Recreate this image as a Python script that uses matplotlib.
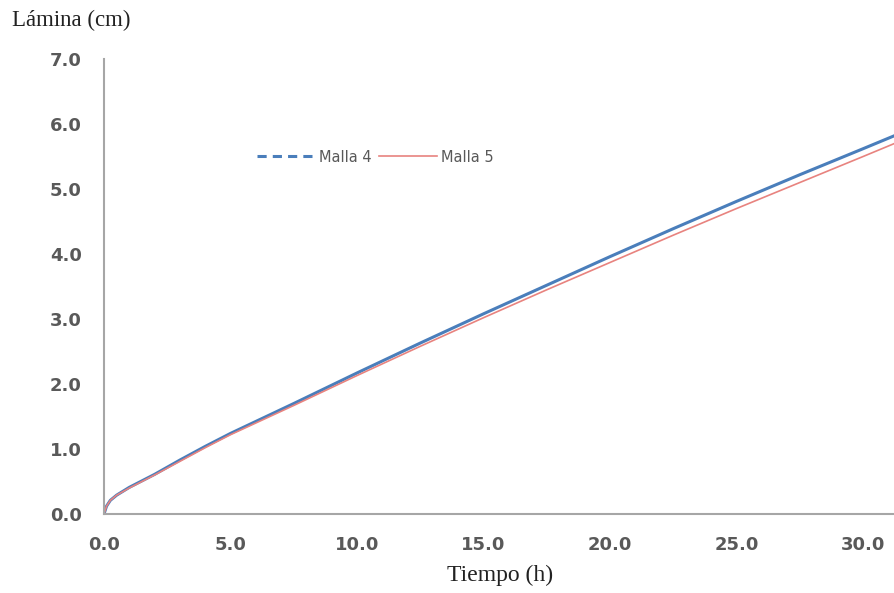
import matplotlib
matplotlib.use("Agg")
import matplotlib.pyplot as plt
from matplotlib.lines import Line2D

# tiempo (h) y lamina infiltrada (cm)
tiempo = [0, 0.1, 0.25, 0.5, 1, 2, 3, 4, 5, 7.5, 10, 12.5, 15, 17.5, 20, 22.5, 25, 27.5, 30, 31.3]
malla4 = [0, 0.12, 0.21, 0.29, 0.41, 0.61, 0.83, 1.04, 1.24, 1.70, 2.17, 2.63, 3.08, 3.52,
          3.96, 4.39, 4.81, 5.22, 5.62, 5.83]
malla5 = [0, 0.12, 0.21, 0.29, 0.40, 0.60, 0.81, 1.02, 1.22, 1.67, 2.13, 2.58, 3.02, 3.45,
          3.87, 4.29, 4.70, 5.10, 5.50, 5.71]
xticks = [0, 5, 10, 15, 20, 25, 30]
yticks = [0, 1, 2, 3, 4, 5, 6, 7]

BLUE = '#4a7ebb'
RED = '#e8837f'
GREY = '#595959'

fig = plt.figure(figsize=(8.95, 5.93), dpi=100)
ax = fig.add_axes([104 / 895, 1 - 514 / 593, 1 - 104 / 895, (514 - 59) / 593])

ax.plot(tiempo, malla4, color=BLUE, lw=2.2, solid_capstyle='butt')
ax.plot(tiempo, malla5, color=RED, lw=1.2)

ax.set_xlim(0, 31.26)
ax.set_ylim(0, 7)
ax.set_xticks(xticks)
ax.set_yticks(yticks)
ax.set_xticklabels(['%.1f' % v for v in xticks])
ax.set_yticklabels(['%.1f' % v for v in yticks])
ax.tick_params(length=0, labelsize=13, labelcolor=GREY)
ax.tick_params(axis='x', pad=16)
ax.tick_params(axis='y', pad=16)
for lab in ax.get_xticklabels() + ax.get_yticklabels():
    lab.set_fontweight('bold')

for s in ['top', 'right']:
    ax.spines[s].set_visible(False)
for s in ['left', 'bottom']:
    ax.spines[s].set_color('#a6a6a6')
    ax.spines[s].set_linewidth(1.5)

fig.text(12 / 895, 1 - 20 / 593, 'Lámina (cm)', family='Liberation Serif', fontsize=16.5,
         va='center', ha='left', color='#222222')
fig.text(500 / 895, 1 - 575 / 593, 'Tiempo (h)', family='Liberation Serif', fontsize=17,
         va='center', ha='center', color='#222222')

handles = [Line2D([], [], color=BLUE, lw=2.2, ls=(0, (3, 2))),
           Line2D([], [], color=RED, lw=1.2)]
fig.legend(handles, ['Malla 4', 'Malla 5'], loc='center', bbox_to_anchor=(375 / 895, 1 - 157 / 593),
           ncol=2, frameon=False, prop={'family': 'DejaVu Sans', 'size': 10.5}, labelcolor=GREY,
           handlelength=4.0, handletextpad=0.25, columnspacing=0.5)

fig.savefig('out.png', dpi=100)
